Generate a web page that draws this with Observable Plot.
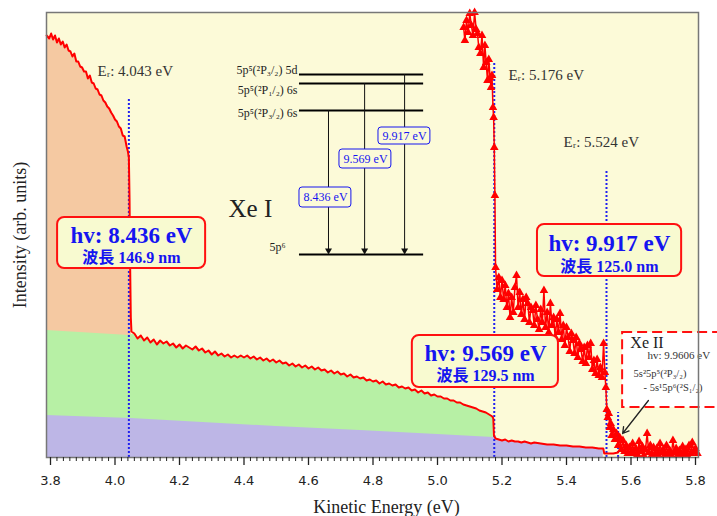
<!DOCTYPE html>
<html><head><meta charset="utf-8">
<script src="https://cdn.jsdelivr.net/npm/d3@7"></script>
<script src="https://cdn.jsdelivr.net/npm/@observablehq/plot@0.6"></script>
<style>
html,body{margin:0;padding:0;background:#fff;}
#chart svg{display:block;}
</style></head><body><div id="chart"></div>
<script>
// Main electron spectrum (x = kinetic energy eV, y = intensity arb. units)
const mainSteep = [[3.788,422],[3.796,419],[3.802,424],[3.808,418],[3.814,422],[3.820,415],[3.826,419],[3.832,413],[3.838,416],[3.844,410],[3.850,413],[3.856,407],[3.862,406],[3.868,401],[3.874,404],[3.880,396],[3.886,396],[3.892,391],[3.898,390],[3.904,386],[3.910,386],[3.916,379],[3.922,382],[3.928,375],[3.934,374],[3.940,369],[3.946,368],[3.952,363],[3.958,362],[3.964,357],[3.970,355],[3.976,351],[3.982,349],[3.988,345],[3.994,342],[4.000,338],[4.006,336],[4.012,331],[4.018,329],[4.024,322],[4.030,321],[4.036,311],[4.040,306],[4.043,300],[4.045,260],[4.047,190],[4.049,140],[4.051,126]];
const mainMid = [[4.06,124],[4.07,119],[4.08,122],[4.09,117],[4.10,120],[4.11,115],[4.12,118],[4.13,113],[4.14,117],[4.15,114],[4.16,116],[4.17,112],[4.18,114],[4.19,110],[4.20,113],[4.21,109],[4.22,112],[4.23,110],[4.24,108],[4.25,111],[4.26,107],[4.27,109],[4.28,105],[4.29,107],[4.30,103],[4.31,106],[4.32,102],[4.33,104],[4.34,101],[4.35,103],[4.36,100],[4.37,102],[4.38,100],[4.39,102],[4.40,100],[4.41,102],[4.42,99],[4.43,101],[4.44,98],[4.45,100],[4.46,97],[4.47,99],[4.48,96],[4.49,98],[4.50,95],[4.51,97],[4.52,94],[4.53,95],[4.54,92],[4.55,94],[4.56,91],[4.57,93],[4.58,90],[4.59,92],[4.60,89],[4.61,91],[4.62,88],[4.63,90],[4.64,87],[4.65,88],[4.66,85],[4.67,87],[4.68,84],[4.69,86],[4.70,83],[4.71,84],[4.72,81],[4.73,83],[4.74,80],[4.75,81],[4.76,79],[4.77,80],[4.78,77],[4.79,78],[4.80,76],[4.81,77],[4.82,74],[4.83,76],[4.84,73],[4.85,74],[4.86,72],[4.87,73],[4.88,70],[4.89,71],[4.90,69],[4.91,70],[4.92,67],[4.93,68],[4.94,65],[4.95,67],[4.96,64],[4.97,65],[4.98,62],[4.99,63],[5.00,61],[5.01,61],[5.02,59],[5.03,59],[5.04,57],[5.05,57],[5.06,55],[5.07,55],[5.08,53],[5.09,52],[5.10,51],[5.11,50],[5.12,49],[5.13,47],[5.14,46],[5.15,45],[5.16,43],[5.17,41],[5.173,39]];
const mainLow = [[5.175,22],[5.180,19],[5.190,18],[5.200,17],[5.210,18],[5.220,16],[5.230,17],[5.240,16],[5.250,16],[5.260,15],[5.270,16],[5.280,15],[5.290,14],[5.300,15],[5.320,14],[5.340,13],[5.360,13],[5.380,12],[5.400,12],[5.420,11],[5.440,11],[5.460,10],[5.480,10],[5.500,9],[5.514,9],[5.517,4],[5.530,4],[5.545,4],[5.560,5]];
// Magnified spectrum drawn with triangle markers
const triX = [5.081,5.085,5.090,5.095,5.100,5.105,5.110,5.115,5.120,5.124,5.128,5.133,5.138,5.143,5.147,5.151,5.155,5.159,5.163,5.166,5.169,5.172,5.174,5.176,5.178,5.180,5.185,5.190,5.195,5.200,5.205,5.210,5.215,5.220,5.225,5.230,5.235,5.240,5.245,5.250,5.255,5.260,5.265,5.270,5.275,5.280,5.285,5.290,5.295,5.300,5.305,5.310,5.315,5.320,5.325,5.330,5.335,5.340,5.345,5.350,5.355,5.360,5.365,5.370,5.375,5.380,5.385,5.390,5.395,5.400,5.405,5.410,5.415,5.420,5.425,5.430,5.435,5.440,5.445,5.450,5.455,5.460,5.465,5.470,5.475,5.480,5.485,5.490,5.495,5.500,5.505,5.510,5.515,5.519,5.522,5.525,5.528,5.531,5.534,5.537,5.540,5.545,5.550,5.555,5.560,5.565,5.570,5.575,5.580,5.585,5.590,5.595,5.600,5.605,5.610,5.615,5.620,5.625,5.630,5.635,5.640,5.645,5.650,5.655,5.660,5.665,5.670,5.675,5.680,5.685,5.690,5.695,5.700,5.705,5.710,5.715,5.720,5.725,5.730,5.735,5.740,5.745,5.750,5.755,5.760,5.765,5.770,5.775,5.780,5.785,5.790,5.795,5.800,5.806];
const triY = [430,417,437,425,444,432,422,445,428,424,410,404,422,390,412,395,377,398,380,370,382,350,340,310,262,190,168,180,160,177,158,172,150,164,140,160,145,170,182,150,165,143,158,138,160,154,135,150,147,132,152,138,128,148,135,167,130,145,125,154,132,140,120,138,125,144,118,132,112,130,120,106,124,117,104,120,100,114,108,96,110,94,112,100,114,88,97,84,98,82,90,80,114,85,70,48,40,44,30,34,22,28,18,24,12,20,8,17,6,12,4,10,5,14,4,9,3,16,6,11,2,8,24,5,12,3,10,4,9,2,14,5,8,3,12,4,7,2,17,5,9,3,7,2,11,4,8,2,12,4,15,6,9,4];
// Background component boundaries
const greenEdgeX = [3.788, 4.045];
const greenEdgeY = [127, 122];
const purpleEdgeX = [3.788, 4.05, 4.5, 4.76, 5.0, 5.174];
const purpleEdgeY = [42, 39, 31, 27, 23, 20];
// Resonance energies (dotted markers)
const erX = [4.043, 5.176, 5.524, 5.56];
const erTop = [360, 395, 287, 45];
const erLabels = ["Eᵣ: 4.043 eV", "Eᵣ: 5.176 eV", "Eᵣ: 5.524 eV"];
// Photon energy boxes
const hvLines = ["hv: 8.436 eV", "hv: 9.917 eV", "hv: 9.569 eV"];
const waveLines = ["波長 146.9 nm", "波長 125.0 nm", "波長 129.5 nm"];
// Xe I level diagram
const levelLabels = ["5p⁵(²P₃/₂) 5d", "5p⁵(²P₁/₂) 6s", "5p⁵(²P₃/₂) 6s", "5p⁶"];
const levelY = [383, 374, 347, 203];
const transitionLabels = ["8.436 eV", "9.569 eV", "9.917 eV"];
const xeIILines = ["5s²5p⁵(²P₃/₂)", "- 5s¹5p⁶(²S₁/₂)"];
const majorTicks = [3.8, 4.0, 4.2, 4.4, 4.6, 4.8, 5.0, 5.2, 5.4, 5.6, 5.8];

const pt = a => a.map(([x, y]) => ({x, y}));
const main = pt(mainSteep).concat(pt(mainMid), pt(mainLow));
const tri = triX.map((x, i) => ({x, y: triY[i]}));
const orange = pt(mainSteep);
const green = greenEdgeX.map((x, i) => ({x, y: greenEdgeY[i]})).concat(pt(mainMid));
const purple = purpleEdgeX.map((x, i) => ({x, y: purpleEdgeY[i]})).concat(pt(mainLow).filter(d => d.x <= 5.516));
const minorTicks = d3.range(380, 581, 2).map(v => v / 100).filter(v => !majorTicks.some(m => Math.abs(m - v) < 1e-6));

const serif = "Liberation Serif, 'DejaVu Serif', 'Noto Sans CJK JP', serif";
const cjk = "Liberation Serif, 'Noto Sans CJK JP', serif";
const blue = "#1515f0";

const hvBoxes = [
  {x1: 3.822, x2: 4.281, y1: 189, y2: 240, cx: 4.051, t1: 222, t2: 199.5},
  {x1: 5.310, x2: 5.757, y1: 181, y2: 233, cx: 5.533, t1: 214, t2: 190.5},
  {x1: 4.922, x2: 5.375, y1: 70, y2: 122, cx: 5.149, t1: 104, t2: 81.5}
];
const smallBoxes = [
  {x1: 4.572, x2: 4.733, y1: 250, y2: 270, cx: 4.653, cy: 260},
  {x1: 4.696, x2: 4.857, y1: 289, y2: 308, cx: 4.777, cy: 298.5},
  {x1: 4.817, x2: 4.978, y1: 313, y2: 330, cx: 4.898, cy: 321.5}
];

const plot = Plot.plot({
  width: 717, height: 516,
  marginLeft: 46, marginRight: 19, marginTop: 12, marginBottom: 59,
  x: {domain: [3.7876, 5.8093]},
  y: {domain: [0, 445], axis: null},
  style: {background: "white", color: "#222"},
  marks: [
    Plot.frame({fill: "#fcfad8", stroke: null}),
    Plot.areaY(orange, {x: "x", y: "y", fill: "#f5c9a2"}),
    Plot.areaY(green, {x: "x", y: "y", fill: "#b7f0a5"}),
    Plot.areaY(purple, {x: "x", y: "y", fill: "#bdb6e6"}),
    Plot.ruleX(erX, {y1: 0, y2: erTop, stroke: "#2020f0", strokeWidth: 2, strokeDasharray: "2,2"}),
    Plot.line(tri, {x: "x", y: "y", stroke: "#ff0000", strokeWidth: 1.5}),
    Plot.dot(tri, {x: "x", y: "y", symbol: "triangle", fill: "#ff0000", r: 3.2}),
    Plot.line(main, {x: "x", y: "y", stroke: "#ff0000", strokeWidth: 2}),
    Plot.text(erLabels, {x: [3.946, 5.220, 5.391], y: [386, 382, 315], text: d => d, textAnchor: "start", fontSize: 15, fontFamily: serif, fill: "#333"}),
    // level diagram
    Plot.ruleY(levelY, {x1: 4.572, x2: 4.957, stroke: "black", strokeWidth: 2}),
    Plot.ruleX([4.662, 4.774, 4.898], {y1: [347, 374, 383], y2: 207, stroke: "#111", strokeWidth: 1}),
    Plot.dot([4.662, 4.774, 4.898], {x: d => d, y: 207, symbol: "triangle", rotate: 180, r: 2.6, fill: "#111"}),
    Plot.text(levelLabels, {x: [4.566, 4.566, 4.566, 4.529], y: [387, 367, 344, 210], text: d => d, textAnchor: "end", fontSize: 12, fontFamily: serif, fill: "#222"}),
    Plot.rect(smallBoxes, {x1: "x1", x2: "x2", y1: "y1", y2: "y2", rx: 3, fill: "#fcfad8", stroke: blue, strokeWidth: 1}),
    Plot.text(smallBoxes, {x: "cx", y: "cy", text: (d, i) => transitionLabels[i], fontSize: 12, fontFamily: serif, fill: blue}),
    Plot.text(["Xe I"], {x: 4.352, y: 249, text: d => d, textAnchor: "start", fontSize: 25, fontFamily: serif, fill: "#222"}),
    // photon energy boxes
    Plot.rect(hvBoxes, {x1: "x1", x2: "x2", y1: "y1", y2: "y2", rx: 7, fill: "#f8fad0", stroke: "#ff1010", strokeWidth: 2}),
    Plot.text(hvBoxes, {x: "cx", y: "t1", text: (d, i) => hvLines[i], fontSize: 23, fontWeight: "bold", fontFamily: serif, fill: blue}),
    Plot.text(hvBoxes, {x: "cx", y: "t2", text: (d, i) => waveLines[i], fontSize: 16, fontWeight: "bold", fontFamily: cjk, fill: blue}),
    // Xe II box
    Plot.rect([{x1: 5.574, x2: 5.88, y1: 50, y2: 125}], {x1: "x1", x2: "x2", y1: "y1", y2: "y2", fill: "white", stroke: "#ff1010", strokeWidth: 2, strokeDasharray: "10,5"}),
    Plot.text(["Xe II"], {x: 5.598, y: 115, text: d => d, textAnchor: "start", fontSize: 16, fontFamily: serif, fill: "#222"}),
    Plot.text(["hv: 9.9606 eV"], {x: 5.651, y: 102, text: d => d, textAnchor: "start", fontSize: 11, fontFamily: serif, fill: "#333"}),
    Plot.text(xeIILines, {x: [5.608, 5.639], y: [84, 70], text: d => d, textAnchor: "start", fontSize: 10.5, fontFamily: serif, fill: "#333"}),
    Plot.arrow([{x1: 5.654, y1: 57, x2: 5.574, y2: 24}], {x1: "x1", y1: "y1", x2: "x2", y2: "y2", stroke: "#222", strokeWidth: 1.3, headLength: 8}),
    Plot.frame({stroke: "#777", strokeWidth: 1.5}),
    Plot.axisX({ticks: majorTicks, tickSize: 8, tickPadding: 10, tickFormat: d => d.toFixed(1), fontSize: 13, fontFamily: "DejaVu Sans", label: null, strokeWidth: 1.3}),
    Plot.axisX({ticks: minorTicks, tickSize: 4, tickFormat: () => "", label: null, strokeWidth: 1}),
    Plot.text(["Kinetic Energy (eV)"], {frameAnchor: "bottom", dx: 14, dy: 50, lineAnchor: "middle", textAnchor: "middle", fontSize: 18, fontFamily: serif, fill: "#222"}),
    Plot.text(["Intensity (arb. units)"], {frameAnchor: "left", dx: -26, rotate: -90, lineAnchor: "middle", textAnchor: "middle", fontSize: 18, fontFamily: serif, fill: "#222"})
  ]
});
document.getElementById("chart").appendChild(plot);
</script>
</body></html>
